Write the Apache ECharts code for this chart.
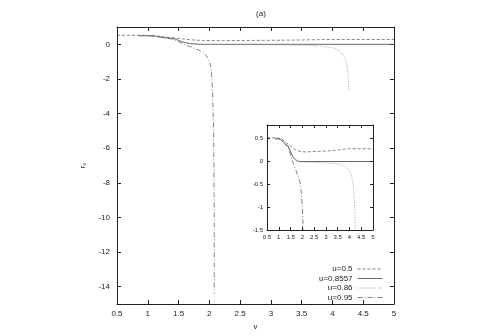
<!DOCTYPE html>
<html>
<head>
<meta charset="utf-8">
<script src="https://cdn.jsdelivr.net/npm/echarts@6/dist/echarts.min.js"></script>
<style>
  html, body { margin: 0; padding: 0; background: #fff; }
  #chart { width: 480px; height: 336px; }
</style>
</head>
<body>
<div id="chart"></div>
<script>
// data, [v, r_v]
var u05 = [[0.5, 0.52], [0.9, 0.52], [1.1, 0.5], [1.3, 0.42], [1.5, 0.34], [1.7, 0.26], [1.9, 0.22],
  [2.1, 0.21], [2.5, 0.22], [3.0, 0.23], [3.5, 0.25], [3.8, 0.27], [4.0, 0.28], [4.5, 0.28], [5.0, 0.28]]
var u08557 = [[0.85, 0.5], [1.0, 0.5], [1.1, 0.48], [1.2, 0.42], [1.3, 0.37], [1.4, 0.34], [1.45, 0.3],
  [1.5, 0.22], [1.55, 0.16], [1.6, 0.1], [1.7, 0.04], [1.8, 0.01], [1.9, 0], [5.0, 0]]
var u086 = [[0.85, 0.5], [1.0, 0.5], [1.1, 0.47], [1.2, 0.42], [1.3, 0.38], [1.4, 0.33], [1.5, 0.24],
  [1.6, 0.12], [1.7, 0.04], [1.8, 0.0], [2.0, -0.01], [2.5, -0.02], [3.0, -0.03], [3.5, -0.05],
  [3.8, -0.1], [4.0, -0.2], [4.1, -0.35], [4.17, -0.57], [4.22, -0.95], [4.25, -1.5], [4.27, -2.7]]
var u095 = [[0.85, 0.5], [1.0, 0.5], [1.1, 0.47], [1.2, 0.42], [1.3, 0.36], [1.4, 0.3], [1.45, 0.22],
  [1.5, 0.14], [1.6, -0.02], [1.7, -0.15], [1.8, -0.3], [1.9, -0.45], [1.95, -0.65], [2.0, -1.0],
  [2.03, -1.4], [2.05, -2.5], [2.07, -5], [2.08, -10], [2.08, -14.4]]

var names = ['u=0.5', 'u=0.8557', 'u=0.86', 'u=0.95']
var mainYTicks = [-14, -12, -10, -8, -6, -4, -2, 0]
var insetYTicks = [-1.5, -1, -0.5, 0, 0.5]

var font = 'Liberation Sans, Arial, sans-serif'
var styles = [
  { color: '#777', type: [3, 2] },
  { color: '#555', type: 'solid' },
  { color: '#999', type: [1, 1.5] },
  { color: '#777', type: [5, 2, 1, 2] }
]
var sets = [u05, u08557, u086, u095]

function xAx(grid, pos, size, show) {
  return {
    type: 'value', gridIndex: grid, position: pos, min: 0.5, max: 5, interval: 0.5, z: grid ? 14 : 0,
    axisLine: { show: true, onZero: false, lineStyle: { color: '#222', width: 1 } },
    axisTick: { show: true, inside: true, length: size > 7 ? 4 : 3, lineStyle: { color: '#222' } },
    axisLabel: { show: show, color: '#222', fontSize: size, fontFamily: font, margin: size > 7 ? 6 : 4,
      showMinLabel: true, showMaxLabel: true },
    splitLine: { show: false }
  }
}
function yAx(grid, pos, min, max, ticks, size, show) {
  return {
    type: 'value', gridIndex: grid, position: pos, min: min, max: max, z: grid ? 14 : 0,
    axisLine: { show: true, onZero: false, lineStyle: { color: '#222', width: 1 } },
    axisTick: { show: true, inside: true, length: size > 7 ? 4 : 3, customValues: ticks, lineStyle: { color: '#222' } },
    axisLabel: { show: show, color: '#222', fontSize: size, fontFamily: font, margin: size > 7 ? 7 : 4,
      customValues: ticks },
    splitLine: { show: false }
  }
}

var xAxes = [xAx(0, 'bottom', 8, true), xAx(0, 'top', 8, false), xAx(1, 'bottom', 6, true), xAx(1, 'top', 6, false)]
xAxes[0].name = 'v'
xAxes[0].nameLocation = 'middle'
xAxes[0].nameGap = 19
xAxes[0].nameTextStyle = { color: '#222', fontSize: 8, fontFamily: font }

var yAxes = [yAx(0, 'left', -15, 1, mainYTicks, 8, true), yAx(0, 'right', -15, 1, mainYTicks, 8, false),
  yAx(1, 'left', -1.5, 0.8, insetYTicks, 6, true), yAx(1, 'right', -1.5, 0.8, insetYTicks, 6, false)]
yAxes[0].name = '{r|r}{s|v}'
yAxes[0].nameLocation = 'middle'
yAxes[0].nameGap = 28
yAxes[0].nameRotate = 90
yAxes[0].nameTextStyle = { rich: {
  r: { color: '#222', fontSize: 8, fontFamily: font },
  s: { color: '#222', fontSize: 6, fontFamily: font, padding: [4, 0, 0, 0] }
} }

var series = []
sets.forEach(function (d, i) {
  series.push({
    name: names[i], type: 'line', xAxisIndex: 0, yAxisIndex: 0, data: d,
    symbol: 'none', clip: true, lineStyle: { width: 0.9, color: styles[i].color, type: styles[i].type },
    itemStyle: { color: styles[i].color }
  })
  series.push({
    name: names[i], type: 'line', xAxisIndex: 2, yAxisIndex: 2, data: d, z: 12,
    symbol: 'none', clip: true, lineStyle: { width: 0.9, color: styles[i].color, type: styles[i].type },
    itemStyle: { color: styles[i].color }
  })
})

var chart = echarts.init(document.getElementById('chart'), null, { renderer: 'canvas' })
chart.setOption({
  animation: false,
  backgroundColor: '#fff',
  title: {
    text: '(a)', left: 256, top: 5, textAlign: 'center',
    textStyle: { fontSize: 8, fontWeight: 'normal', color: '#222', fontFamily: font }
  },
  legend: {
    data: names, orient: 'vertical', align: 'right', right: 97, top: 265,
    itemWidth: 25, itemHeight: 8, itemGap: 1.5, padding: 0,
    itemStyle: { opacity: 0, borderWidth: 0 },
    lineStyle: { width: 0.9 },
    textStyle: { fontSize: 8, color: '#222', fontFamily: font }
  },
  grid: [
    { left: 117, top: 27, width: 277, height: 278 },
    { left: 267, top: 125, width: 106, height: 105, show: true, backgroundColor: '#fff', borderWidth: 0, z: 10 }
  ],
  xAxis: xAxes,
  yAxis: yAxes,
  series: series
})
</script>
</body>
</html>
